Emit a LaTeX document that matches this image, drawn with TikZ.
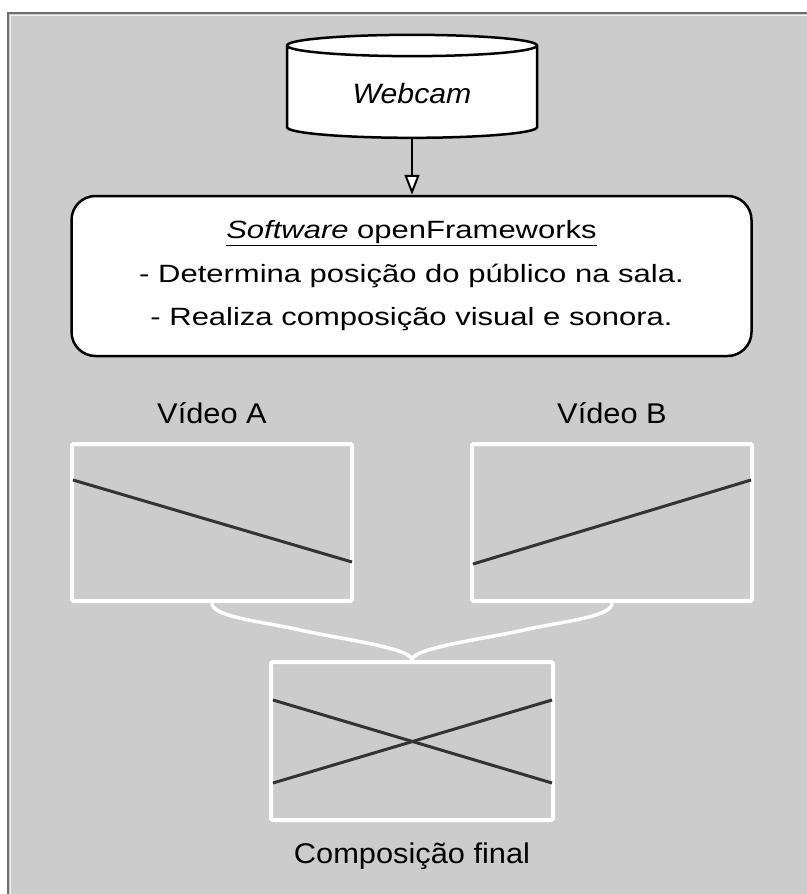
\documentclass[tikz,border=0pt]{standalone}
\usepackage{fontspec}
\setmainfont{Liberation Sans}
\newfontfamily\labelfont[FakeStretch=1.08]{Liberation Sans}
\newfontfamily\bodyfont[FakeStretch=1.24]{Liberation Sans}
\usepackage{xcolor}
\usetikzlibrary{shapes.geometric,arrows.meta,positioning,calc}
\definecolor{panel}{HTML}{CCCCCC}
\definecolor{rim}{HTML}{6E6E6E}
\definecolor{stroke}{HTML}{333333}
\tikzset{
  camera/.style={
    shape = cylinder,
    shape border rotate = 90,
    aspect = 0.17,
    draw,
    fill = white,
    line width = 2.5pt,
    minimum width = 250pt,
    minimum height = 103pt,
    font = \labelfont\fontsize{28}{30}\selectfont\itshape
  },
  program/.style={
    draw,
    fill = white,
    line width = 2.5pt,
    rounded corners = 24pt,
    minimum width = 680pt,
    minimum height = 160pt,
    align = center,
    font = \bodyfont\fontsize{25}{43.5}\selectfont
  },
  screen/.style={
    draw = white,
    line width = 4pt,
    rounded corners = 1.5pt,
    minimum width = 280pt,
    minimum height = 157pt
  },
  caption/.style={
    inner sep = 0pt,
    font = \labelfont\fontsize{28.5}{30}\selectfont
  },
  track/.style={
    draw = stroke,
    line width = 3pt
  },
  mergeline/.style={
    draw = white,
    line width = 3.5pt
  }
}

\begin{document}
\begin{tikzpicture}[x=1pt, y=-1pt]
  \useasboundingbox (0,0) rectangle (806,894);
  % panel
  \fill[panel] (8,13) rectangle (810,900);
  \draw[white!70!panel, line width=1.5pt] (10.5,900) -- (10.5,15.5) -- (810,15.5);
  \draw[rim, line width=1.5pt] (8,900) -- (8,13) -- (810,13);

  % input and program
  \node[camera] (webcam) at (412,93.5) {Webcam};
  \node[program] (soft) at (411.5,276) {\underline{\textit{Software} openFrameworks}\\- Determina posição do público na sala.\\- Realiza composição visual e sonora.};
  \draw[line width=2pt, -{Triangle[fill=white, length=20pt, width=15pt]}] (webcam.south) -- (webcam.south |- soft.north);

  % videos
  \node[screen] (vidA) at (212,522.5) {};
  \node[screen] (vidB) at (612,522.5) {};
  \node[screen, minimum width=282pt, minimum height=158pt] (comp) at (412,741) {};
  \node[caption, above=18pt of vidA] (labA) {Vídeo A};
  \node[caption, above=18pt of vidB] (labB) {Vídeo B};
  \node[caption, below=21pt of comp] (labC) {Composição final};

  \draw[track] ($(vidA.north west)+(3,38)$) -- ($(vidA.south east)+(-2,-41)$);
  \draw[track] ($(vidB.south west)+(3,-39)$) -- ($(vidB.north east)+(-3,38)$);
  \draw[track] ($(comp.north west)+(4,40)$) -- ($(comp.south east)+(-3,-39)$);
  \draw[track] ($(comp.south west)+(4,-39)$) -- ($(comp.north east)+(-3,40)$);

  % brace
  \coordinate (braceL) at (300,630);
  \coordinate (braceR) at (524,630);
  \draw[mergeline] (vidA.south) .. controls +(0,14) and +(-40,-9) .. (braceL) .. controls +(40,9) and +(0,-12) .. (comp.north);
  \draw[mergeline] (vidB.south) .. controls +(0,14) and +(40,-9) .. (braceR) .. controls +(-40,9) and +(0,-12) .. (comp.north);
\end{tikzpicture}
\end{document}
